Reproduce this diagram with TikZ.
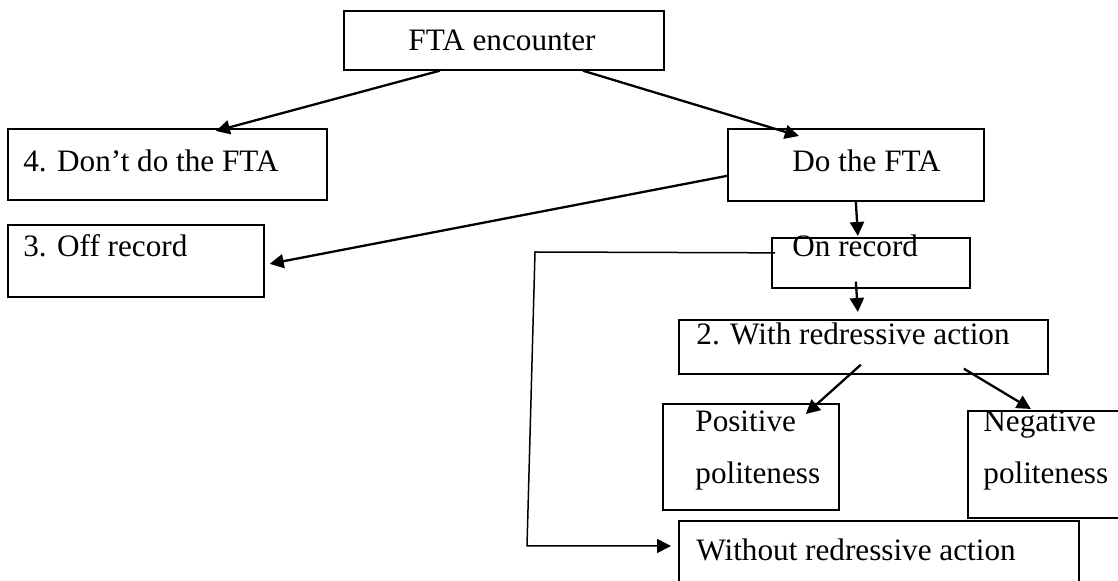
\documentclass[tikz,border=0pt]{standalone}
\usepackage{fontspec}
\setmainfont{Liberation Serif}
\usetikzlibrary{calc,arrows.meta}

\tikzset{
  box/.style={draw, line width=0.85pt, anchor=north west, inner sep=0pt},
  txt/.style={anchor=base west, inner sep=0pt, font=\fontsize{15.6}{18}\selectfont},
  arr/.style={line width=1.15pt, -{Triangle[length=7pt,width=7pt]}},
}

\begin{document}
\begin{tikzpicture}[x=0.5pt, y=-0.5pt]
		%%%%% START %%%%%
		\useasboundingbox (0,0) rectangle (1118,581);
		
		\node[box, minimum width=160pt, minimum height=29.5pt] (fta) at (343, 10) {};
		\node[txt] (fta-t) at (408, 51) {FTA encounter};
		
		\node[box, minimum width=159.5pt, minimum height=35.5pt] (dont) at (7, 128) {};
		\node[txt] (dont-t) at (23, 172) {4. Don’t do the FTA};
		\node[box, minimum width=128pt, minimum height=36pt] (do) at (727, 128) {};
		\node[txt] (do-t) at (792, 172) {Do the FTA};
		
		\node[box, minimum width=128pt, minimum height=36pt] (off) at (7, 224) {};
		\node[txt] (off-t) at (23, 257) {3. Off record};
		\node[box, minimum width=99pt, minimum height=25pt] (on) at (771, 237) {};
		\node[txt] (on-t) at (792, 257) {On record};
		
		\node[box, minimum width=184.5pt, minimum height=27pt] (with) at (678, 319) {};
		\node[txt] (with-t) at (696, 345) {2. With redressive action};
		
		\node[box, minimum width=88pt, minimum height=53pt] (pos) at (662, 403) {};
		\node[txt] (pos-a) at (695, 432) {Positive};
		\node[txt] (pos-b) at (695, 484) {politeness};
		\node[box, minimum width=85pt, minimum height=53.5pt] (neg) at (967, 410) {};
		\node[txt] (neg-a) at (983, 432) {Negative};
		\node[txt] (neg-b) at (983, 484) {politeness};
		
		\node[box, minimum width=200pt, minimum height=40pt] (without) at (678, 520) {};
		\node[txt] (without-t) at (696, 561) {Without redressive action};
		
		% arrows
		\draw[arr] ($(fta.south)+(-64,0)$) -- ($(dont.north)+(48.5,3)$);
		\draw[arr] ($(fta.south)+(79,0)$) -- ($(do.north)+(-57,8)$);
		\draw[arr] ($(do.west)+(0,11)$) -- ($(off.east)+(5,3)$);
		\draw[arr] (do.south) -- ($(on.north)+(-13,-1)$);
		\draw[arr] ($(on.south)+(-15,-7)$) -- ($(with.north)+(-5.5,-7)$);
		\draw[arr] ($(with.south)+(-2.5,-10)$) -- ($(pos.north)+(55,11)$);
		\draw[arr] ($(with.south)+(100.5,-6)$) -- ($(neg.north)+(-22,-1)$);
		
		\coordinate (bend-a) at (535, 252);
		\coordinate (bend-b) at (527, 546);
		\draw[line width=0.75pt, -{Triangle[length=7pt,width=7pt]}] ($(on.west)+(4,-10)$) -- (bend-a) -- (bend-b) -- ($(without.north west)+(-7,26)$);
		
		%%%%% END %%%%%
\end{tikzpicture}
\end{document}
